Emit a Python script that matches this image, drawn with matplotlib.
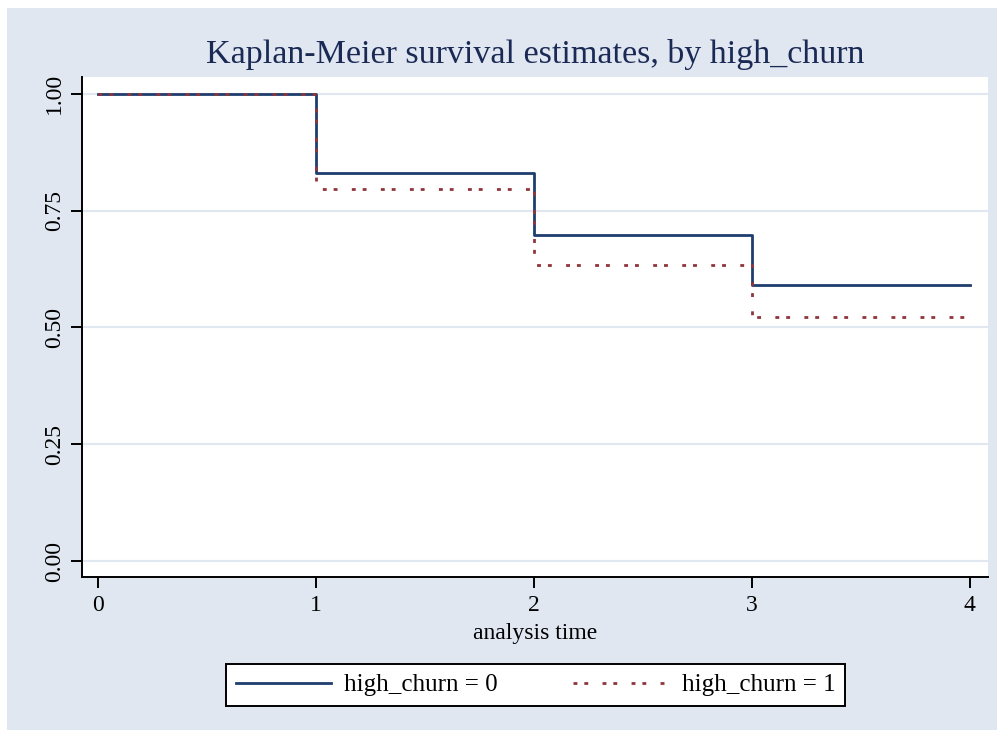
import numpy as np
import matplotlib.pyplot as plt

# Kaplan-Meier step values
times = [0, 1, 2, 3, 4]
surv_0 = [1.0, 0.830, 0.697, 0.590, 0.590]
surv_1 = [1.0, 0.797, 0.633, 0.522, 0.522]
labels = ["high_churn = 0", "high_churn = 1"]
yticks = [0.0, 0.25, 0.5, 0.75, 1.0]
xticks = [0, 1, 2, 3, 4]

bg = "#e1e7f1"
navy = "#1f3d6e"
maroon = "#90353b"

plt.rcParams['font.family'] = ['Liberation Serif', 'DejaVu Serif']
plt.rcParams['lines.scale_dashes'] = False

fig = plt.figure(figsize=(10.03, 7.38), dpi=100)
fig.patch.set_facecolor("white")
# Stata-like graph region
fig.patches.append(plt.Rectangle((7 / 1003, 8 / 738), 990 / 1003, 722 / 738,
                                 transform=fig.transFigure, facecolor=bg,
                                 edgecolor="none", zorder=-10))

ax = fig.add_axes([82 / 1003, 161 / 738, 906 / 1003, 500 / 738])
ax.set_facecolor("white")

ax.plot(times, surv_0, drawstyle="steps-post", color=navy, lw=2.0,
        label=labels[0], zorder=3)
ax.plot(times, surv_1, drawstyle="steps-post", color=maroon, lw=2.0,
        dashes=(2.8, 5.0, 2.8, 10.3), dash_capstyle="butt",
        label=labels[1], zorder=4)

ax.set_xlim(-0.073, 4.083)
ax.set_ylim(-0.034, 1.036)
ax.set_xticks(xticks)
ax.set_xticklabels([str(t) for t in xticks])
ax.set_yticks(yticks)
ax.set_yticklabels([f"{v:.2f}" for v in yticks], rotation=90, va="center")
ax.grid(axis="y", color="#e1e7f1", lw=1.5)
ax.set_axisbelow(True)

for s in ["top", "right"]:
    ax.spines[s].set_visible(False)
for s in ["left", "bottom"]:
    ax.spines[s].set_color("black")
    ax.spines[s].set_linewidth(1.4)
ax.tick_params(axis="both", direction="out", length=8, width=1.4,
               labelsize=17, colors="black", pad=5)
ax.tick_params(axis="y", pad=4)

ax.set_xlabel("analysis time", fontsize=17, labelpad=5)
fig.text(535 / 1003, 1 - 55 / 738,
         "Kaplan-Meier survival estimates, by high_churn",
         ha="center", va="center", fontsize=24.5, color="#1a2a55")

leg = fig.legend(loc="center", bbox_to_anchor=(535.5 / 1003, 1 - 685 / 738),
                 ncol=2, fontsize=18, frameon=True, fancybox=False,
                 edgecolor="black", facecolor="white", framealpha=1,
                 handlelength=3.8, columnspacing=3.0, borderpad=0.4,
                 handletextpad=0.55)
leg.get_frame().set_linewidth(1.4)

fig.savefig("out.png", dpi=100)
